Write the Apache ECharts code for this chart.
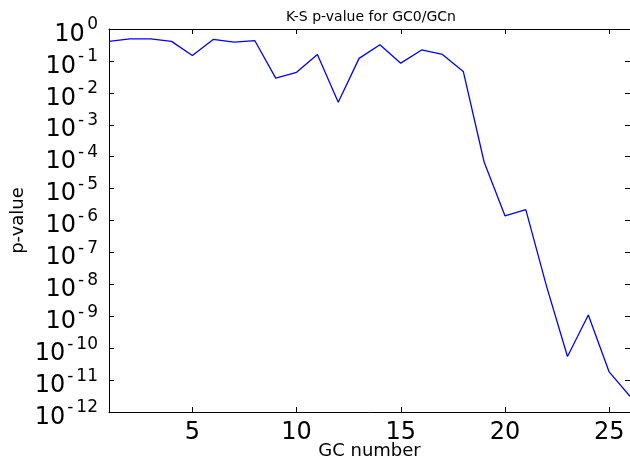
<!DOCTYPE html>
<html>
<head>
<meta charset="utf-8">
<script src="https://cdn.jsdelivr.net/npm/echarts@6/dist/echarts.min.js"></script>
<style>html,body{margin:0;padding:0;background:#fff;}#c{width:630px;height:462px;}</style>
</head>
<body>
<div id="c"></div>
<script>
var gcNumbers = [1,2,3,4,5,6,7,8,9,10,11,12,13,14,15,16,17,18,19,20,21,22,23,24,25,26];
var pValues = [0.41,0.49,0.49,0.41,0.148,0.47,0.39,0.43,0.029,0.044,0.158,0.0051,0.12,0.32,0.085,0.22,0.16,0.047,6.8e-5,1.4e-6,2.2e-6,8.5e-9,5.5e-11,1.1e-9,1.8e-11,3.1e-12];
var xTicks = [5,10,15,20,25];
var titleText = 'K-S p-value for GC0/GCn';
var xName = 'GC number';
var yName = 'p-value';

var FONT = 'DejaVu Sans';
var chart = echarts.init(document.getElementById('c'), null, {renderer: 'canvas'});
var lineData = gcNumbers.map(function (x, i) { return [x, pValues[i]]; });

function tick(extra) {
  var t = {show: true, inside: true, length: 5, lineStyle: {color: '#000', width: 1}};
  if (extra) { for (var k in extra) t[k] = extra[k]; }
  return t;
}
function aline() { return {show: true, onZero: false, lineStyle: {color: '#000', width: 1}}; }
var supStyle = {fontFamily: FONT, fontSize: 17, lineHeight: 17, verticalAlign: 'top', color: '#000'};
function sup(pad) { var o = {}; for (var k in supStyle) o[k] = supStyle[k]; o.padding = pad; return o; }

chart.setOption({
  animation: false,
  backgroundColor: '#fff',
  title: {
    text: titleText,
    left: 371,
    textAlign: 'center',
    top: 10,
    padding: 0,
    textStyle: {fontFamily: FONT, fontSize: 14, fontWeight: 'normal', color: '#000'}
  },
  grid: {left: 109, right: 0, top: 29, bottom: 50, containLabel: false, outerBoundsMode: 'none'},
  xAxis: [{
    type: 'value', min: 1, max: 26, position: 'bottom',
    name: xName, nameLocation: 'middle', nameGap: 30, nameMoveOverlap: false,
    nameTextStyle: {fontFamily: FONT, fontSize: 18, color: '#000'},
    axisLine: aline(),
    axisTick: tick({customValues: xTicks}),
    axisLabel: {customValues: xTicks, margin: 9, fontFamily: FONT, fontSize: 24, color: '#000'},
    splitLine: {show: false}
  }, {
    type: 'value', min: 1, max: 26, position: 'top',
    axisLine: aline(),
    axisTick: tick({customValues: xTicks}),
    axisLabel: {show: false},
    splitLine: {show: false}
  }],
  yAxis: [{
    type: 'log', logBase: 10, min: 1e-12, max: 1, interval: 1, position: 'left',
    name: yName, nameLocation: 'middle', nameGap: 82, nameMoveOverlap: false,
    nameTextStyle: {fontFamily: FONT, fontSize: 18, color: '#000'},
    axisLine: aline(),
    axisTick: tick(),
    minorTick: {show: false},
    splitLine: {show: false},
    axisLabel: {
      margin: 11,
      showMinLabel: true, showMaxLabel: true,
      hideOverlap: false,
      padding: [5, 0, 0, 0],
      formatter: function (v) {
        var e = Math.round(Math.log(v) / Math.LN10);
        if (e < 0) return '{b|10}{m|-}{d|' + (-e) + '}';
        return '{b|10}{z|' + e + '}';
      },
      rich: {
        b: {fontFamily: FONT, fontSize: 24, lineHeight: 30, verticalAlign: 'bottom', color: '#000'},
        m: sup([0, 3, 0, 2]),
        d: sup([0, 0, 0, 0]),
        z: sup([0, 0, 0, 2.5])
      }
    }
  }, {
    type: 'log', logBase: 10, min: 1e-12, max: 1, interval: 1, position: 'right',
    axisLine: aline(),
    axisTick: tick(),
    axisLabel: {show: false},
    splitLine: {show: false}
  }],
  series: [{
    type: 'line',
    data: lineData,
    xAxisIndex: 0, yAxisIndex: 0,
    showSymbol: false,
    lineStyle: {color: '#0000ff', width: 1.3},
    itemStyle: {color: '#0000ff'}
  }]
});
</script>
</body>
</html>
